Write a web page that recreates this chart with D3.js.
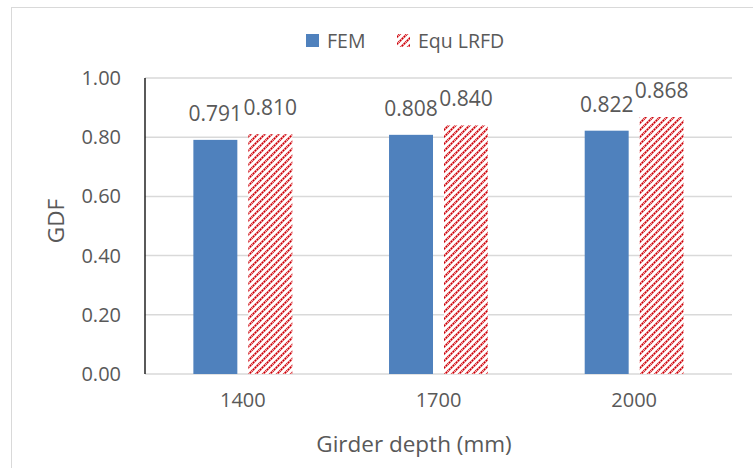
<!DOCTYPE html>
<html><head><meta charset="utf-8">
<script src="https://cdn.jsdelivr.net/npm/d3@7"></script>
<style>body{margin:0;background:#fff}svg{display:block}text{font-family:"Open Sans",Lato,sans-serif;fill:#595959}</style>
</head><body>
<svg id="c" width="753" height="468"></svg>
<script>
const categories = ["1400", "1700", "2000"];
const seriesNames = ["FEM", "Equ LRFD"];
const femValues = [0.791, 0.808, 0.822];
const equValues = [0.810, 0.840, 0.868];
const yTicks = [0, 0.2, 0.4, 0.6, 0.8, 1.0];

const svg = d3.select("#c");
const W = 753, H = 468;
const m = {l:145, r:21, t:78, b:94};
const FONT = "'Open Sans',Lato,sans-serif";

// chart border
svg.append("rect").attr("x",11.5).attr("y",7.5).attr("width",W+10).attr("height",H+10)
  .attr("fill","none").attr("stroke","#d9d9d9").attr("stroke-width",1);

const defs = svg.append("defs");
const P = 7;
const pat = defs.append("pattern").attr("id","hatch").attr("patternUnits","userSpaceOnUse")
  .attr("width",P).attr("height",P);
pat.append("rect").attr("width",P).attr("height",P).attr("fill","#fff");
const dPath = `M-1,${P+1} L${P+1},-1 M-${P/2+1},${P/2+1} L${P/2+1},-${P/2+1} M${P/2-1},${P*1.5+1} L${P*1.5+1},${P/2-1}`;
pat.append("path").attr("d", dPath).attr("stroke","#f4a0a0").attr("stroke-width",2.2);
pat.append("path").attr("d", dPath).attr("stroke","#c8000a").attr("stroke-width",1.8)
  .attr("stroke-dasharray","1.5,1.3");

const x = d3.scaleBand().domain(categories).range([m.l, W - m.r]);
const x1 = d3.scaleBand().domain(seriesNames).range([0, x.bandwidth()]).paddingInner(0.2).paddingOuter(0.88);
const y = d3.scaleLinear().domain([0, 1]).range([H - m.b, m.t]);

// gridlines
svg.append("g").selectAll("line").data(yTicks).join("line")
  .attr("x1", m.l).attr("x2", W - m.r)
  .attr("y1", d => y(d)).attr("y2", d => y(d))
  .attr("stroke", "#d9d9d9").attr("stroke-width", 1.5);

// y tick labels
const yAxis = d3.axisLeft(y).tickValues(yTicks).tickFormat(d3.format(".2f")).tickSize(0).tickPadding(24);
const gy = svg.append("g").attr("transform", `translate(${m.l},0)`).call(yAxis);
gy.select(".domain").remove();
gy.selectAll("text").attr("font-size", 20).attr("fill", "#595959").style("font-family", FONT);

// bars
const series = [
  {name: "FEM", values: femValues, fill: "#4f81bd"},
  {name: "Equ LRFD", values: equValues, fill: "url(#hatch)"}
];
series.forEach(s => {
  const g = svg.append("g");
  g.selectAll("rect").data(categories).join("rect")
    .attr("x", (c) => x(c) + x1(s.name))
    .attr("width", x1.bandwidth())
    .attr("y", (c, i) => y(s.values[i]))
    .attr("height", (c, i) => y(0) - y(s.values[i]))
    .attr("fill", s.fill);
  g.selectAll("text").data(categories).join("text")
    .attr("x", (c) => x(c) + x1(s.name) + x1.bandwidth() / 2)
    .attr("y", (c, i) => y(s.values[i]) - 19)
    .attr("text-anchor", "middle").attr("font-size", 21)
    .text((c, i) => d3.format(".3f")(s.values[i]));
});

// y axis line
svg.append("line").attr("x1", m.l).attr("x2", m.l).attr("y1", y(1)).attr("y2", y(0))
  .attr("stroke", "#000").attr("stroke-width", 1.3);

// x labels
const xAxis = d3.axisBottom(x).tickSize(0).tickPadding(19);
const gx = svg.append("g").attr("transform", `translate(0,${y(0)})`).call(xAxis);
gx.select(".domain").remove();
gx.selectAll("text").attr("font-size", 20).attr("fill", "#595959").style("font-family", FONT);

// axis titles
svg.append("text").attr("x", 414).attr("y", 452).attr("text-anchor", "middle")
  .attr("font-size", 22.5).text("Girder depth (mm)");
svg.append("text").attr("transform", "translate(64,221) rotate(-90)").attr("text-anchor", "middle")
  .attr("font-size", 22.5).text("GDF");

// legend
const leg = svg.append("g");
const legX = [306, 397];
seriesNames.forEach((n, i) => {
  leg.append("rect").attr("x", legX[i]).attr("y", 34).attr("width", 13).attr("height", 13)
    .attr("fill", series[i].fill);
  leg.append("text").attr("x", legX[i] + 21).attr("y", 48).attr("font-size", 19.5).text(n);
});
</script>
</body></html>
